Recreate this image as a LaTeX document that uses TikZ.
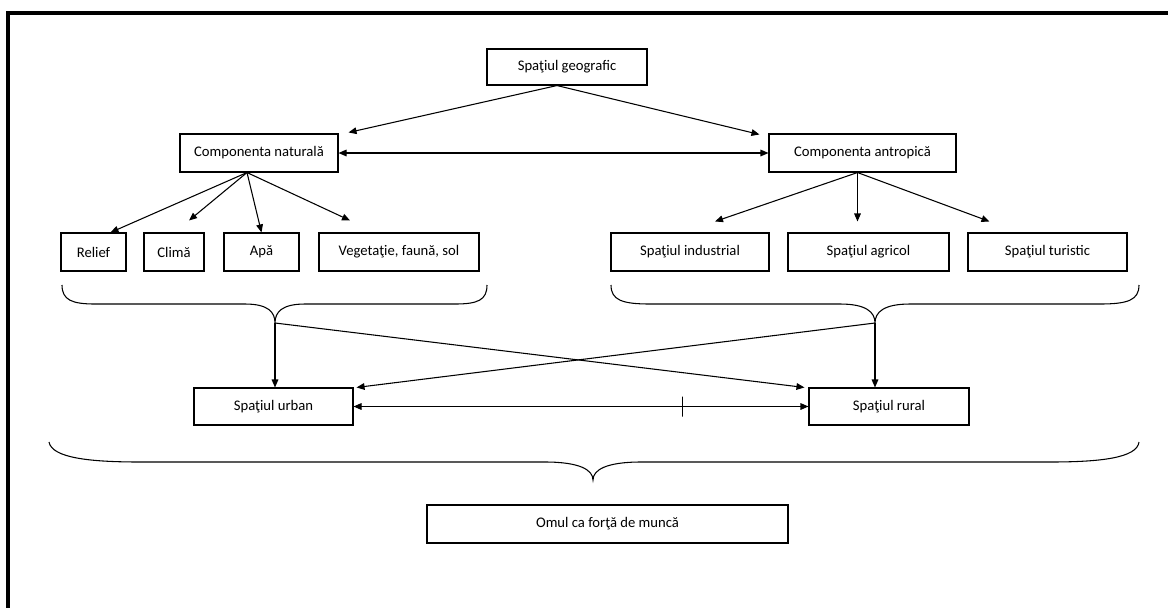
\documentclass[tikz,border=0pt]{standalone}
\usepackage{fontspec}
\setmainfont{Carlito}
\usetikzlibrary{arrows.meta,calc}

\begin{document}
\begin{tikzpicture}[x=0.75pt,y=-0.75pt,>={Triangle[length=6pt,width=5pt]}]

    \tikzset{
      box/.style={
        draw,
        line width=0.8pt,
        inner sep=0pt,
        minimum height=28.5pt,
        font=\fontsize{11}{13}\selectfont,
      },
      link/.style={->,line width=0.8pt},
      brace/.style={line width=0.8pt},
    }
    \useasboundingbox (0,0) rectangle (1168,608);
    % frame
    \draw[line width=3pt] (1168,13) -- (8,13) -- (8,608);

    % top levels
    \node[box, minimum width=120pt, minimum height=27pt] (geo) at (567,67) {Spaţiul geografic};
    \node[box, minimum width=118.5pt] (nat) at (259,153) {Componenta naturală};
    \node[box, minimum width=140.25pt] (ant) at (862.5,153) {Componenta antropică};

    % natural components
    \node[box, minimum width=48.75pt] (relief) at (93.5,252) {Relief};
    \node[box, minimum width=45pt] (clima) at (174,252) {Climă};
    \node[box, minimum width=56.25pt] (apa) at (261.5,252) {Apă};
    \node[box, minimum width=120pt] (veg) at (399,252) {Vegetaţie, faună, sol};

    % anthropic components
    \node[box, minimum width=118.5pt] (ind) at (690,252) {Spaţiul industrial};
    \node[box, minimum width=120.75pt] (agr) at (868.5,252) {Spaţiul agricol};
    \node[box, minimum width=119.25pt] (tur) at (1047.5,252) {Spaţiul turistic};

    % urban / rural
    \node[box, minimum width=119.25pt, minimum height=27.75pt] (urban) at (273.5,406.5) {Spaţiul urban};
    \node[box, minimum width=120pt, minimum height=27.75pt] (rural) at (889,406.5) {Spaţiul rural};

    \node[box, minimum width=270.75pt] (omul) at (607.5,524) {Omul ca forţă de muncă};

    % arrows from the top
    \coordinate (geofoot) at ($(geo.south)+(-10,0)$);
    \draw[link] (geofoot) -- ($(nat.north east)+(10,-1)$);
    \draw[link] (geofoot) -- ($(ant.north west)+(-9,1)$);
    \draw[<->,line width=0.8pt] (nat) -- (ant);

    \coordinate (natfoot) at ($(nat.south)+(-12,0)$);
    \draw[link] (natfoot) -- ($(relief.north)+(17,0)$);
    \draw[link] (natfoot) -- ($(clima.north)+(15,-12)$);
    \draw[link] (natfoot) -- (apa.north);
    \draw[link] (natfoot) -- ($(veg.north)+(-49,-12)$);

    \coordinate (antfoot) at ($(ant.south)+(-5,0)$);
    \draw[link] (antfoot) -- ($(ind.north)+(25,-11)$);
    \draw[link] (antfoot) -- ($(agr.north)+(-11,-11)$);
    \draw[link] (antfoot) -- ($(tur.north)+(-58,-11)$);

    % braces
    \draw[brace] (62,285) .. controls (62,300) and (72,304) .. (95,304) -- (245,304) .. controls (268,304) and (275,312) .. (275,323)
      .. controls (275,312) and (282,304) .. (305,304) -- (455,304) .. controls (478,304) and (487,300) .. (487,285);
    \coordinate (natbrace) at (275,323);
    \draw[brace] (611,285) .. controls (611,300) and (622,304) .. (650,304) -- (840,304) .. controls (866,304) and (875,312) .. (875,323)
      .. controls (875,312) and (884,304) .. (910,304) -- (1100,304) .. controls (1128,304) and (1139,300) .. (1139,285);
    \coordinate (antbrace) at (875,323);
    \draw[brace] (49,442) .. controls (52,458) and (90,462) .. (140,462) -- (545,462) .. controls (580,462) and (593,470) .. (593,480)
      .. controls (593,470) and (606,462) .. (641,462) -- (1050,462) .. controls (1100,462) and (1137,458) .. (1139,442);

    % to urban and rural
    \draw[link] (natbrace) -- (natbrace |- urban.north);
    \draw[link] (natbrace) -- ($(rural.north west)+(-4,0)$);
    \draw[link] (antbrace) -- (antbrace |- rural.north);
    \draw[link] (antbrace) -- ($(urban.north east)+(3,0)$);
    \draw[<->,line width=0.8pt] (urban) -- node[pos=0.724, draw, line width=0.8pt, inner sep=0pt, minimum width=0pt, minimum height=15pt] (tick) {} (rural);

\end{tikzpicture}
\end{document}
